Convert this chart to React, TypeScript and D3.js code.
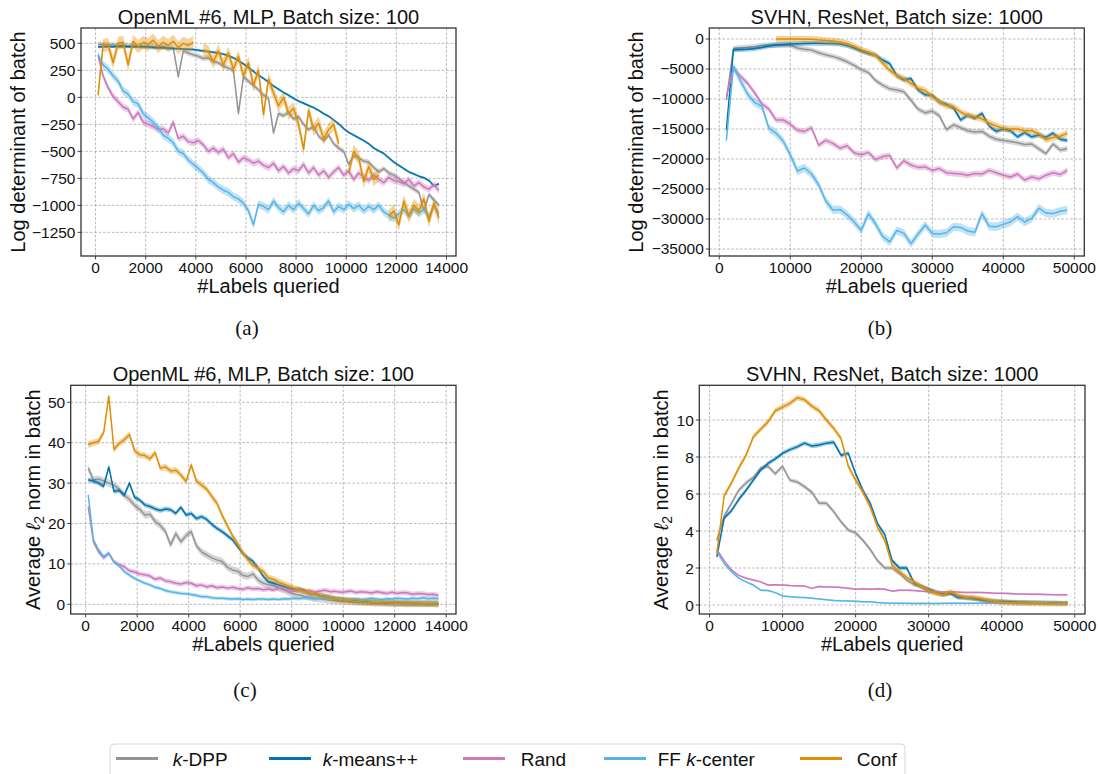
import React from "react";
import * as d3 from "d3";

// ---------------- data ----------------
const METHODS = ["k-DPP", "k-means++", "Rand", "FF k-center", "Conf"];
const COLORS = ["#949494", "#0173b2", "#cc78bc", "#56b4e9", "#de8f05"];

// labels queried (query schedule)
const labelsOpenML = d3.range(100, 13800, 200);
const labelsSVHN = d3.range(1000, 50000, 1000);

const xTicksOpenML = [0, 2000, 4000, 6000, 8000, 10000, 12000, 14000];
const xTicksSVHN = [0, 10000, 20000, 30000, 40000, 50000];
const yTicksLogdetOpenML = [500, 250, 0, -250, -500, -750, -1000, -1250];
const yTicksLogdetSVHN = [0, -5000, -10000, -15000, -20000, -25000, -30000, -35000];
const yTicksNormOpenML = [0, 10, 20, 30, 40, 50];
const yTicksNormSVHN = [0, 2, 4, 6, 8, 10];

// (a) log determinant, OpenML #6
const logdetOpenML_kdpp = [490, 492, 485, 488, 480, 484, 478, 482, 476, 470,
  474, 468, 465, 470, 455, 460, 190, 430, 410, 395,
  380, 360, 365, 330, 320, 290, 270, 250, -150, 190,
  150, 110, 70, 20, -10, -330, -150, -170, -140, -200,
  -180, -250, -300, -270, -360, -400, -350, -430, -470, -500,
  -620, -540, -560, -590, -600, -650, -690, -660, -700, -720,
  -750, -790, -820, -850, -880, -1050, -900, -950, -1000];
const logdetOpenML_kmeans = [466, 468, 470, 468, 472, 470, 468, 466, 470, 468,
  465, 462, 460, 458, 455, 452, 450, 448, 445, 442,
  436, 430, 424, 418, 410, 400, 385, 365, 340, 310,
  275, 240, 205, 175, 140, 105, 75, 45, 20, -10,
  -35, -55, -75, -95, -120, -150, -175, -210, -245, -290,
  -325, -350, -375, -400, -430, -470, -495, -520, -560, -600,
  -630, -660, -690, -710, -730, -745, -770, -820, -800];
const logdetOpenML_rand = [390, 200, 90, 10, -40, -90, -110, -200, -140, -230,
  -250, -270, -300, -290, -330, -230, -380, -360, -410, -420,
  -400, -440, -500, -470, -510, -480, -560, -520, -600, -560,
  -580, -610, -590, -630, -650, -610, -680, -640, -700, -660,
  -680, -620, -700, -650, -720, -680, -740, -690, -650, -720,
  -680, -760, -700, -740, -770, -720, -760, -790, -740, -770,
  -780, -800, -760, -820, -790, -830, -850, -810, -860];
const logdetOpenML_ff = [390, 300, 260, 200, 150, 60, 30, -40, -60, -150,
  -190, -230, -280, -350, -380, -420, -500, -520, -580, -620,
  -660, -700, -760, -790, -830, -860, -880, -920, -940, -980,
  -1050, -1180, -990, -1010, -1040, -960, -1020, -1060, -1000, -1040,
  -980, -1030, -1080, -1000, -1050, -1020, -960, -1060, -1010, -1040,
  -990, -1030, -1000, -1050, -1010, -1040, -1000, -1060, -1090, -1120,
  -1080, -1040, -1100, -1030, -1070, -1040, -1110, -1000, -1080];
const logdetOpenML_conf = [20, 480, 490, 320, 500, 510, 300, 520, 470, 510,
  490, 530, 470, 510, 480, 520, 460, 500, 480, 510,
  null, 440, 420, 330, 430, 300, 410, 260, 380, 200,
  320, 110, 250, -160, 170, 40, -80, 0, -150, -100,
  -250, -480, -120, -300, -240, -380, -300, -250, -430, null,
  -700, -500, -560, -780, -640, -760, -720, null, -1100, -1050,
  -1180, -960, -1100, -1000, -1050, -940, -1150, -980, -1120];

// (b) log determinant, SVHN
const logdetSVHN_kdpp = [-10200, -1600, -1500, -1400, -1300, -1100, -1000, -1000, -1050, -1000,
  -1500, -1700, -1850, -2300, -2650, -2900, -3300, -3800, -4400, -5100,
  -5600, -6900, -7700, -8300, -8500, -8800, -10200, -11700, -12300, -12000,
  -12800, -15100, -14300, -14800, -15300, -15500, -15400, -16200, -16700, -16900,
  -17100, -17300, -17600, -17500, -18300, -19100, -17500, -18500, -18300];
const logdetSVHN_kmeans = [-15200, -1800, -1750, -1700, -1600, -1400, -1150, -1000, -900, -850,
  -800, -750, -720, -720, -730, -750, -850, -1100, -1500, -2000,
  -2400, -2700, -3500, -4100, -6100, -6800, -6600, -8500, -9300, -9400,
  -10500, -10900, -11500, -13500, -12700, -13200, -12400, -14500, -15400, -15000,
  -15300, -16300, -15600, -16300, -16000, -16400, -15700, -16700, -16900];
const logdetSVHN_rand = [-9600, -4900, -6200, -7400, -9000, -10800, -11700, -13500, -13500, -14200,
  -15200, -15400, -14800, -17700, -16900, -17400, -18200, -17800, -19000, -19300,
  -18900, -20100, -19600, -19400, -21500, -20300, -21000, -21400, -21300, -21900,
  -21600, -22300, -22400, -22500, -22700, -22400, -22500, -21900, -22300, -22700,
  -23000, -22500, -23500, -23000, -23300, -22700, -22300, -22600, -21900];
const logdetSVHN_ff = [-16900, -4600, -7000, -9200, -10600, -11200, -14900, -15700, -17000, -19300,
  -22000, -21500, -22500, -24300, -27000, -28500, -28400, -29300, -30500, -31900,
  -29100, -30800, -32900, -33800, -31900, -32400, -34100, -32500, -31000, -32400,
  -32500, -32300, -31300, -31400, -32000, -32200, -29100, -31200, -31300, -30900,
  -30500, -29600, -30500, -29900, -28200, -29000, -29100, -28700, -28500];
const logdetSVHN_conf = [null, null, null, null, null, null, null, 0, 0, -20,
  -20, -30, -50, -150, -250, -350, -500, -750, -1200, -1800,
  -2200, -2700, -4000, -5200, -6100, -6600, -7400, -8200, -8600, -9600,
  -10500, -11100, -11300, -12200, -12700, -13000, -13300, -14000, -14500, -14900,
  -15000, -15000, -15300, -15300, -15800, -16800, -16400, -16200, -15700];

// (c) average l2 norm, OpenML #6
const normOpenML_kdpp = [33.7, 30.8, 31, 30.5, 30, 29.5, 28.5, 27, 26, 24.5,
  23.5, 22.1, 22.3, 20.5, 19.5, 18, 14.7, 17.5, 15.5, 17,
  18, 14.5, 13, 12.2, 11.5, 11, 10.6, 9.2, 8.5, 8.2,
  7.2, 6.9, 7.5, 6, 5.2, 4.8, 4.6, 4.0, 3.6, 3.0,
  2.5, 2.3, 2.0, 1.8, 1.5, 1.4, 1.2, 1.0, 0.9, 0.85,
  0.75, 0.65, 0.55, 0.5, 0.45, 0.4, 0.38, 0.35, 0.3, 0.28,
  0.25, 0.22, 0.2, 0.2, 0.18, 0.16, 0.15, 0.14, 0.12];
const normOpenML_kmeans = [30.8, 30.5, 30, 29.2, 34, 27.9, 28.2, 27, 30, 26.5,
  25.8, 24.6, 24.2, 23.6, 23.2, 23.6, 23.4, 22.5, 24, 22.1,
  22.5, 21.2, 21.7, 21, 19.8, 18.8, 18, 17, 16, 14.3,
  12.6, 11.5, 10.6, 8.9, 6.9, 5.6, 5.2, 4.8, 4.4, 4.0,
  3.7, 3.7, 3.4, 2.7, 2.6, 2.2, 2.0, 1.7, 1.4, 1.2,
  1.1, 0.9, 0.8, 0.65, 0.55, 0.45, 0.4, 0.35, 0.3, 0.28,
  0.25, 0.22, 0.2, 0.18, 0.17, 0.15, 0.14, 0.13, 0.12];
const normOpenML_rand = [24.2, 15.5, 13, 11.5, 12.6, 10.5, 9.8, 9.3, 8.3, 8.0,
  7.5, 7.3, 7.0, 6.2, 6.5, 5.8, 5.6, 5.2, 5.0, 5.4,
  5.2, 4.6, 4.8, 4.3, 4.6, 4.1, 4.3, 4.0, 4.2, 3.9,
  3.7, 4.1, 3.8, 3.9, 3.6, 3.8, 3.5, 4.0, 3.7, 3.3,
  3.2, 3.5, 3.1, 3.4, 3.0, 3.3, 3.5, 3.1, 3.2, 3.0,
  3.1, 3.3, 2.9, 3.1, 3.0, 2.8, 3.1, 2.9, 2.7, 3.0,
  2.7, 2.9, 2.8, 2.5, 2.7, 2.6, 2.4, 2.5, 2.2];
const normOpenML_ff = [27.1, 16, 13.5, 11.8, 12.6, 10.5, 9.5, 8.1, 7.2, 6.4,
  5.8, 5.2, 4.8, 4.2, 3.9, 3.4, 3.1, 2.9, 2.7, 2.6,
  2.4, 2.2, 1.9, 1.9, 1.6, 1.5, 1.5, 1.4, 1.3, 1.4,
  1.2, 1.3, 1.2, 1.3, 1.3, 1.2, 1.3, 1.2, 1.4, 1.3,
  1.5, 1.4, 1.6, 1.5, 1.3, 1.5, 1.4, 1.2, 1.3, 1.4,
  1.2, 1.3, 1.4, 1.2, 1.3, 1.5, 1.3, 1.2, 1.4, 1.3,
  1.5, 1.4, 1.3, 1.5, 1.4, 1.6, 1.4, 1.5, 1.4];
const normOpenML_conf = [39.5, 40, 40.3, 42.5, 51.5, 38.3, 39.8, 40.7, 42, 38,
  37, 36.8, 36, 37.5, 33.7, 34, 33, 33.2, 32, 30.4,
  34.5, 30.5, 29.5, 28.5, 26.7, 25, 22, 19.5, 17, 15,
  12.8, 11, 9.6, 8.9, 8.1, 6.5, 6.2, 5.5, 5, 4.5,
  4.0, 3.6, 3.2, 2.8, 2.5, 2.2, 1.9, 1.6, 1.3, 1.15,
  1.0, 0.85, 0.7, 0.6, 0.5, 0.45, 0.4, 0.35, 0.3, 0.28,
  0.25, 0.22, 0.2, 0.18, 0.16, 0.14, 0.12, 0.11, 0.1];

// (d) average l2 norm, SVHN
const normSVHN_kdpp = [3.5, 4.8, 5.5, 6.2, 6.6, 6.9, 7.4, 7.5, 7.1, 7.5,
  6.75, 6.65, 6.4, 6.1, 5.5, 5.5, 5.05, 4.5, 4.05, 3.9,
  3.5, 3.0, 2.4, 2.0, 2.0, 1.7, 1.35, 1.1, 1.0, 0.72,
  0.65, 0.55, 0.62, 0.45, 0.4, 0.35, 0.3, 0.25, 0.22, 0.2,
  0.18, 0.16, 0.15, 0.14, 0.13, 0.12, 0.12, 0.11, 0.1];
const normSVHN_kmeans = [2.6, 4.7, 5.1, 5.7, 6.2, 6.75, 7.3, 7.65, 7.9, 8.2,
  8.4, 8.55, 8.75, 8.6, 8.65, 8.75, 8.8, 8.1, 8.2, 7.1,
  6.2, 5.5, 4.4, 3.8, 2.4, 2.0, 2.0, 1.2, 1.0, 0.85,
  0.7, 0.6, 0.65, 0.4, 0.4, 0.37, 0.3, 0.23, 0.18, 0.16,
  0.15, 0.14, 0.13, 0.12, 0.12, 0.11, 0.11, 0.1, 0.1];
const normSVHN_rand = [3.0, 2.4, 1.9, 1.6, 1.45, 1.35, 1.25, 1.08, 1.1, 1.08,
  1.05, 1.03, 1.03, 0.9, 1.0, 0.97, 0.97, 0.95, 0.9, 0.85,
  0.88, 0.85, 0.88, 0.85, 0.75, 0.8, 0.8, 0.78, 0.75, 0.72,
  0.72, 0.7, 0.72, 0.7, 0.68, 0.68, 0.68, 0.66, 0.63, 0.63,
  0.62, 0.6, 0.6, 0.58, 0.58, 0.57, 0.56, 0.55, 0.55];
const normSVHN_ff = [2.9, 2.25, 1.8, 1.45, 1.25, 1.08, 0.8, 0.78, 0.67, 0.49,
  0.45, 0.42, 0.4, 0.37, 0.33, 0.29, 0.25, 0.23, 0.22, 0.2,
  0.18, 0.17, 0.13, 0.11, 0.1, 0.09, 0.09, 0.08, 0.09, 0.08,
  0.08, 0.09, 0.09, 0.1, 0.09, 0.1, 0.1, 0.11, 0.1, 0.1,
  0.11, 0.1, 0.1, 0.11, 0.12, 0.11, 0.1, 0.1, 0.1];
const normSVHN_conf = [2.8, 5.9, 6.6, 7.4, 8.1, 9.1, 9.5, 9.9, 10.5, 10.7,
  10.9, 11.2, 11.1, 10.75, 10.5, 10.0, 9.55, 9.0, 7.5, 6.75,
  6.1, 5.3, 4.2, 3.5, 2.15, 1.8, 1.5, 1.25, 1.0, 0.8,
  0.63, 0.55, 0.72, 0.55, 0.4, 0.4, 0.35, 0.27, 0.2, 0.15,
  0.12, 0.1, 0.09, 0.08, 0.08, 0.07, 0.07, 0.07, 0.08];

// standard-error half widths per method (k-DPP, k-means++, Rand, FF k-center, Conf)
const errLogdetOpenML = [24, 12, 32, 38, 60];
const errLogdetSVHN = [450, 400, 500, 700, 550];
const errNormOpenML = [0.9, 0.6, 0.6, 0.45, 0.8];
const errNormSVHN = [0.12, 0.12, 0.05, 0.05, 0.15];

// ---------------- drawing ----------------
const FONT = "'Liberation Sans', Arial, Helvetica, sans-serif";
const SERIF = "'Liberation Serif', 'Times New Roman', serif";

type Box = { x0: number; x1: number; y0: number; y1: number };
type Cfg = {
  id: string;
  box: Box;
  xDomain: [number, number];
  yDomain: [number, number];
  xTicks: number[];
  yTicks: number[];
  xs: number[];
  series: (number | null)[][];
  err: number[];
  title: string;
  ylabel: React.ReactNode;
  ylabelX: number;
};

const fmt = d3.format("d");

function Panel({ cfg }: { cfg: Cfg }) {
  const { box } = cfg;
  const x = d3.scaleLinear().domain(cfg.xDomain).range([box.x0, box.x1]);
  const y = d3.scaleLinear().domain(cfg.yDomain).range([box.y1, box.y0]);
  const cx = (box.x0 + box.x1) / 2;
  const cy = (box.y0 + box.y1) / 2;
  return (
    <g fontFamily={FONT}>
      <defs>
        <clipPath id={"clip-" + cfg.id}>
          <rect x={box.x0} y={box.y0} width={box.x1 - box.x0} height={box.y1 - box.y0} />
        </clipPath>
      </defs>
      <g stroke="#a8a8a8" strokeWidth={0.8} strokeDasharray="2.6,1.8">
        {cfg.xTicks.map((t) => (
          <line key={"gx" + t} x1={x(t)} x2={x(t)} y1={box.y0} y2={box.y1} />
        ))}
        {cfg.yTicks.map((t) => (
          <line key={"gy" + t} x1={box.x0} x2={box.x1} y1={y(t)} y2={y(t)} />
        ))}
      </g>
      <g clipPath={`url(#clip-${cfg.id})`}>
        {cfg.series.map((vals, si) => {
          const pts = vals.map((v, i) => ({ x: cfg.xs[i], v }));
          const e = cfg.err[si];
          const area = d3
            .area<{ x: number; v: number | null }>()
            .defined((d) => d.v != null)
            .x((d) => x(d.x))
            .y0((d) => y((d.v as number) - e))
            .y1((d) => y((d.v as number) + e));
          const line = d3
            .line<{ x: number; v: number | null }>()
            .defined((d) => d.v != null)
            .x((d) => x(d.x))
            .y((d) => y(d.v as number));
          return (
            <g key={si}>
              <path d={area(pts) || ""} fill={COLORS[si]} opacity={0.38} stroke="none" />
              <path d={line(pts) || ""} fill="none" stroke={COLORS[si]} strokeWidth={1.5} strokeLinejoin="round" />
            </g>
          );
        })}
      </g>
      <rect x={box.x0} y={box.y0} width={box.x1 - box.x0} height={box.y1 - box.y0} fill="none" stroke="#333" strokeWidth={1.3} />
      <g stroke="#333" strokeWidth={0.9}>
        {cfg.xTicks.map((t) => (
          <line key={"tx" + t} x1={x(t)} x2={x(t)} y1={box.y1} y2={box.y1 + 3.5} />
        ))}
        {cfg.yTicks.map((t) => (
          <line key={"ty" + t} x1={box.x0 - 3.5} x2={box.x0} y1={y(t)} y2={y(t)} />
        ))}
      </g>
      <g fontSize={15.5} fill="#111">
        {cfg.xTicks.map((t) => (
          <text key={"lx" + t} x={x(t)} y={box.y1 + 16.5} textAnchor="middle">{fmt(t)}</text>
        ))}
        {cfg.yTicks.map((t) => (
          <text key={"ly" + t} x={box.x0 - 5.5} y={y(t) + 5.5} textAnchor="end">{fmt(t)}</text>
        ))}
      </g>
      <text x={cx} y={box.y0 - 4} textAnchor="middle" fontSize={20} fill="#111">{cfg.title}</text>
      <text x={cx} y={box.y1 + 36.5} textAnchor="middle" fontSize={20} fill="#111">#Labels queried</text>
      <text transform={`translate(${cfg.ylabelX},${cy}) rotate(-90)`} textAnchor="middle" fontSize={20} fill="#111">
        {cfg.ylabel}
      </text>
    </g>
  );
}

const normLabel = (
  <>
    <tspan>Average </tspan>
    <tspan fontStyle="italic">ℓ</tspan>
    <tspan fontSize={14} dy={4}>2</tspan>
    <tspan dy={-4}> norm in batch</tspan>
  </>
);

const panels: Cfg[] = [
  {
    id: "a",
    box: { x0: 81, x1: 456, y0: 28, y1: 256 },
    xDomain: [-580, 14380],
    yDomain: [-1469, 642],
    xTicks: xTicksOpenML,
    yTicks: yTicksLogdetOpenML,
    xs: labelsOpenML,
    series: [logdetOpenML_kdpp, logdetOpenML_kmeans, logdetOpenML_rand, logdetOpenML_ff, logdetOpenML_conf],
    err: errLogdetOpenML,
    title: "OpenML #6, MLP, Batch size: 100",
    ylabel: "Log determinant of batch",
    ylabelX: 25,
  },
  {
    id: "b",
    box: { x0: 709.3, x1: 1084.3, y0: 28, y1: 256 },
    xDomain: [-1400, 51400],
    yDomain: [-36167, 1833],
    xTicks: xTicksSVHN,
    yTicks: yTicksLogdetSVHN,
    xs: labelsSVHN,
    series: [logdetSVHN_kdpp, logdetSVHN_kmeans, logdetSVHN_rand, logdetSVHN_ff, logdetSVHN_conf],
    err: errLogdetSVHN,
    title: "SVHN, ResNet, Batch size: 1000",
    ylabel: "Log determinant of batch",
    ylabelX: 643,
  },
  {
    id: "c",
    box: { x0: 70.7, x1: 456, y0: 385.3, y1: 614 },
    xDomain: [-580, 14380],
    yDomain: [-2.4, 54.2],
    xTicks: xTicksOpenML,
    yTicks: yTicksNormOpenML,
    xs: labelsOpenML,
    series: [normOpenML_kdpp, normOpenML_kmeans, normOpenML_rand, normOpenML_ff, normOpenML_conf],
    err: errNormOpenML,
    title: "OpenML #6, MLP, Batch size: 100",
    ylabel: normLabel,
    ylabelX: 40,
  },
  {
    id: "d",
    box: { x0: 699.3, x1: 1085, y0: 385.3, y1: 614 },
    xDomain: [-1400, 51400],
    yDomain: [-0.486, 11.876],
    xTicks: xTicksSVHN,
    yTicks: yTicksNormSVHN,
    xs: labelsSVHN,
    series: [normSVHN_kdpp, normSVHN_kmeans, normSVHN_rand, normSVHN_ff, normSVHN_conf],
    err: errNormSVHN,
    title: "SVHN, ResNet, Batch size: 1000",
    ylabel: normLabel,
    ylabelX: 668,
  },
];

const captions = [
  { t: "(a)", x: 247, y: 335 },
  { t: "(b)", x: 880, y: 335 },
  { t: "(c)", x: 245, y: 697 },
  { t: "(d)", x: 880, y: 697 },
];

const legendLineX = [116, 269, 463, 604, 800];
const legendTextX = [172.7, 322.7, 520.7, 657.7, 856.7];

function methodLabel(m: string) {
  const i = m.indexOf("k-");
  if (i < 0) return <tspan>{m}</tspan>;
  return (
    <>
      <tspan>{m.slice(0, i)}</tspan>
      <tspan fontStyle="italic">k</tspan>
      <tspan>{m.slice(i + 1)}</tspan>
    </>
  );
}

export default function App() {
  return (
    <svg width={1099} height={774} style={{ position: "absolute", left: 0, top: 0, background: "#fff" }}>
      <rect x={0} y={0} width={1099} height={774} fill="#fff" />
      {panels.map((p) => (
        <Panel key={p.id} cfg={p} />
      ))}
      {captions.map((c) => (
        <text key={c.t} x={c.x} y={c.y} textAnchor="middle" fontFamily={SERIF} fontSize={21} fill="#111">{c.t}</text>
      ))}
      <g fontFamily={FONT}>
        <rect x={110} y={744} width={795} height={42} rx={4} fill="#fff" stroke="#d6d6d6" strokeWidth={1} />
        {METHODS.map((m, i) => (
          <g key={m}>
            <line x1={legendLineX[i]} x2={legendLineX[i] + 42} y1={758.5} y2={758.5} stroke={COLORS[i]} strokeWidth={3} />
            <text x={legendTextX[i]} y={765.5} fontSize={19} fill="#111">{methodLabel(m)}</text>
          </g>
        ))}
      </g>
    </svg>
  );
}
